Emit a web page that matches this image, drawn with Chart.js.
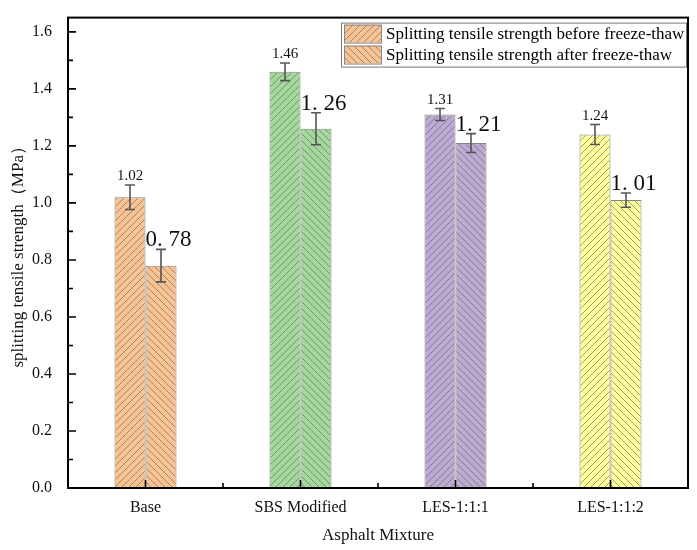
<!DOCTYPE html>
<html>
<head>
<meta charset="utf-8">
<script src="https://cdn.jsdelivr.net/npm/chart.js@4/dist/chart.umd.min.js"></script>
<style>
  html, body { margin: 0; padding: 0; background: #fff; }
  #wrap { width: 697px; height: 550px; }
</style>
</head>
<body>
<div id="wrap"><canvas id="cv" width="697" height="550"></canvas></div>
<script>
// Data
var mixtures = ['Base', 'SBS Modified', 'LES-1:1:1', 'LES-1:1:2'];
var seriesNames = ['Splitting tensile strength before freeze-thaw', 'Splitting tensile strength after freeze-thaw'];
var beforeFT = [1.02, 1.46, 1.31, 1.24];
var afterFT = [0.78, 1.26, 1.21, 1.01];
var beforeErr = [0.043, 0.031, 0.021, 0.035];
var afterErr = [0.057, 0.056, 0.033, 0.025];
// labels as printed on the figure
var beforeText = ['1.02', '1.46', '1.31', '1.24'];
var afterText = ['0. 78', '1. 26', '1. 21', '1. 01'];
var yTicks = [0, 0.2, 0.4, 0.6, 0.8, 1.0, 1.2, 1.4, 1.6];
var Y_MAX = 1.65;

var colors = ['#F9C291', '#A3D99B', '#BDAAD3', '#FFFF9C'];
var SERIF = '"Liberation Serif", "Times New Roman", serif';

// hatch pattern, dir = 1 for "/", -1 for "\"
function hatch(color, dir)
{
	var s = 7;
	var c = document.createElement('canvas');
	c.width = s; c.height = s;
	var g = c.getContext('2d');
	g.fillStyle = color;
	g.fillRect(0, 0, s, s);
	g.strokeStyle = 'rgba(95,95,95,0.75)';
	g.lineWidth = 0.8;
	g.beginPath();
	if (dir > 0)
	{
		g.moveTo(0, s); g.lineTo(s, 0);
		g.moveTo(-1, 1); g.lineTo(1, -1);
		g.moveTo(s - 1, s + 1); g.lineTo(s + 1, s - 1);
	}
	else
	{
		g.moveTo(0, 0); g.lineTo(s, s);
		g.moveTo(-1, s - 1); g.lineTo(1, s + 1);
		g.moveTo(s - 1, -1); g.lineTo(s + 1, 1);
	}
	g.stroke();
	return g.createPattern(c, 'repeat');
}

var ctx = document.getElementById('cv').getContext('2d');
var beforeFill = colors.map(function (c) { return hatch(c, 1); });
var afterFill = colors.map(function (c) { return hatch(c, -1); });

// Error bars + value labels
var errorPlugin = {
	id: 'errors',
	afterDatasetsDraw: function (chart)
	{
		var c = chart.ctx;
		var y = chart.scales.y;
		var sets = [[beforeFT, beforeErr, beforeText], [afterFT, afterErr, afterText]];
		c.save();
		for (var d = 0; d < 2; d++)
		{
			var meta = chart.getDatasetMeta(d);
			for (var i = 0; i < mixtures.length; i++)
			{
				var bar = meta.data[i];
				var v = sets[d][0][i], e = sets[d][1][i];
				var yt = y.getPixelForValue(v + e), yb = y.getPixelForValue(v - e);
				c.strokeStyle = '#555555';
				c.lineWidth = 1.6;
				c.beginPath();
				c.moveTo(bar.x, yt); c.lineTo(bar.x, yb);
				c.moveTo(bar.x - 5, yt); c.lineTo(bar.x + 5, yt);
				c.moveTo(bar.x - 5, yb); c.lineTo(bar.x + 5, yb);
				c.stroke();
				c.fillStyle = '#111';
				c.textBaseline = 'alphabetic';
				if (d == 0)
				{
					c.font = '15px ' + SERIF;
					c.textAlign = 'center';
					c.fillText(sets[d][2][i], bar.x, yt - 5);
				}
				else
				{
					c.font = '23px ' + SERIF;
					c.textAlign = 'left';
					c.fillText(sets[d][2][i], bar.x - bar.width / 2, yt - 3);
				}
			}
		}
		c.restore();
	}
};

// Frame, inward ticks, legend
var framePlugin = {
	id: 'frame',
	afterDraw: function (chart)
	{
		var c = chart.ctx;
		var a = chart.chartArea;
		var y = chart.scales.y, x = chart.scales.x;
		c.save();
		c.strokeStyle = '#000';
		c.lineWidth = 2;
		c.strokeRect(a.left, a.top, a.right - a.left, a.bottom - a.top);
		c.lineWidth = 1.6;
		c.beginPath();
		for (var t = 0; t <= 16; t++)
		{
			var py = y.getPixelForValue(t / 10);
			var len = (t % 2 == 0) ? 8 : 5;
			c.moveTo(a.left, py); c.lineTo(a.left + len, py);
		}
		for (var i = 0; i < mixtures.length; i++)
		{
			var px = x.getPixelForValue(i);
			c.moveTo(px, a.bottom); c.lineTo(px, a.bottom - 8);
			if (i > 0)
			{
				var mx = x.getPixelForValue(i - 0.5);
				c.moveTo(mx, a.bottom); c.lineTo(mx, a.bottom - 5);
			}
		}
		c.stroke();

		// legend box
		var lx = a.left + 273, ly = a.top + 5, lw = a.right - 1 - lx, lh = 44;
		c.fillStyle = '#fff';
		c.fillRect(lx, ly, lw, lh);
		c.strokeStyle = '#777';
		c.lineWidth = 1;
		c.strokeRect(lx + 0.5, ly + 0.5, lw - 1, lh);
		var pats = [beforeFill[0], afterFill[0]];
		for (var k = 0; k < 2; k++)
		{
			var by = ly + 2 + k * 21;
			c.fillStyle = pats[k];
			c.fillRect(lx + 3, by, 37, 18);
			c.strokeStyle = '#888';
			c.strokeRect(lx + 3.5, by + 0.5, 37, 18);
			c.fillStyle = '#000';
			c.font = '17px ' + SERIF;
			c.textAlign = 'left';
			c.textBaseline = 'middle';
			c.fillText(seriesNames[k], lx + 45, by + 10);
		}
		c.restore();
	}
};

var chart = new Chart(ctx,
{
	type: 'bar',
	data: {
		labels: mixtures,
		datasets: [
			{
				label: seriesNames[0],
				data: beforeFT,
				backgroundColor: beforeFill,
				borderColor: '#858585',
				borderWidth: 1
			},
			{
				label: seriesNames[1],
				data: afterFT,
				backgroundColor: afterFill,
				borderColor: '#858585',
				borderWidth: 1
			}
		]
	},
	options: {
		responsive: false,
		animation: false,
		layout: { padding: { top: 14, right: 9, left: 0, bottom: 0 } },
		plugins: {
			legend: { display: false },
			tooltip: { enabled: false }
		},
		datasets: { bar: { categoryPercentage: 0.4, barPercentage: 1.0 } },
		scales: {
			x: {
				grid: { display: false },
				border: { display: false },
				ticks: { color: '#111', font: { family: SERIF, size: 16 }, padding: 2 },
				title: { display: true, text: 'Asphalt Mixture', color: '#111', font: { family: SERIF, size: 17 }, padding: { top: 4 } },
				afterFit: function (s) { s.height = 62; }
			},
			y: {
				min: 0,
				max: Y_MAX,
				grid: { display: false },
				border: { display: false },
				ticks: {
					stepSize: 0.2,
					color: '#111',
					font: { family: SERIF, size: 16 },
					padding: 8,
					callback: function (v) { return v.toFixed(1); }
				},
				afterBuildTicks: function (s)
				{
					s.ticks = yTicks.map(function (v) { return { value: v }; });
				},
				title: { display: true, text: 'splitting tensile strength（MPa）', color: '#111', font: { family: SERIF, size: 17 }, padding: { top: 8, bottom: 0 } },
				afterFit: function (s) { s.width = 68; }
			}
		}
	},
	plugins: [errorPlugin, framePlugin]
});
</script>
</body>
</html>
